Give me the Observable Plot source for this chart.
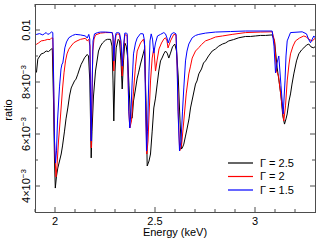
<!DOCTYPE html>
<html>
<head>
<meta charset="utf-8">
<script src="https://cdn.jsdelivr.net/npm/d3@7"></script>
<script src="https://cdn.jsdelivr.net/npm/@observablehq/plot@0.6"></script>
<style>
  html, body { margin: 0; padding: 0; background: #fff; }
  svg { display: block; font-family: "Liberation Sans", Arial, sans-serif; }
</style>
</head>
<body>
<div id="chart"></div>
<script>
// ---- data ----
const seriesNames = ["Γ = 2.5", "Γ = 2", "Γ = 1.5"];
const seriesColors = ["#000000", "#ff0000", "#0000ff"];

const energyG25 = [1.905,1.9115,1.9285,1.94,1.9535,1.965,1.9785,1.984,1.99,1.995,1.999,2.005,2.0115,2.02,2.0285,2.035,2.045,2.0525,2.0615,2.07,2.0785,2.085,2.095,2.1025,2.1115,2.12,2.1285,2.1375,2.145,2.1525,2.1585,2.165,2.1715,2.1785,2.1825,2.19,2.2,2.215,2.225,2.235,2.25,2.26,2.275,2.2825,2.2875,2.2915,2.2975,2.3035,2.3135,2.32,2.3275,2.3335,2.34,2.3465,2.3535,2.36,2.3675,2.375,2.3835,2.39,2.4,2.4085,2.415,2.425,2.4385,2.445,2.4525,2.4585,2.4675,2.475,2.4835,2.4915,2.5,2.5085,2.5165,2.525,2.5325,2.5415,2.55,2.5585,2.5665,2.575,2.585,2.5965,2.605,2.6135,2.6225,2.63,2.636,2.6415,2.65,2.6585,2.6675,2.675,2.6875,2.7,2.7075,2.7165,2.73,2.74,2.75,2.765,2.7835,2.8,2.8165,2.835,2.85,2.8665,2.89,2.9165,2.95,2.975,3.0,3.025,3.05,3.0835,3.095,3.1085,3.1175,3.1275,3.1365,3.145,3.1525,3.1585,3.1675,3.175,3.1825,3.1915,3.205,3.2165,3.23,3.2415,3.255,3.2665,3.2775,3.2915,3.3];
const ratioG25 = [8.40,8.90,9.10,9.13,9.21,9.19,9.28,9.31,7.29,4.98,3.94,4.40,4.71,4.98,5.25,5.56,6.13,6.60,7.02,7.48,7.79,7.90,8.06,8.13,8.32,8.52,8.70,8.83,8.95,9.02,9.08,9.02,8.06,5.10,6.13,7.48,8.44,9.21,9.40,9.52,9.63,9.66,9.66,9.40,8.06,6.52,8.44,9.33,9.66,9.60,8.83,7.75,8.83,9.52,9.40,9.02,7.87,6.63,6.63,7.29,7.75,8.17,8.37,8.71,9.10,9.29,7.29,4.79,4.98,5.25,6.13,7.02,7.40,7.94,8.44,8.83,8.94,9.10,9.21,9.13,8.94,9.13,9.37,9.48,9.21,8.25,6.52,5.44,5.52,5.63,5.94,6.25,6.60,7.02,7.48,7.94,8.06,8.33,8.52,8.75,8.83,9.02,9.21,9.29,9.40,9.48,9.52,9.60,9.65,9.72,9.77,9.77,9.79,9.81,9.81,9.83,9.60,8.56,8.06,7.48,6.71,6.40,6.60,6.79,7.29,7.56,7.94,8.33,8.83,9.10,9.25,9.33,9.44,9.48,9.37,9.33,9.40];

const energyG2 = [1.905,1.915,1.9285,1.945,1.9615,1.9725,1.9815,1.9865,1.991,1.996,2.0025,2.0075,2.015,2.025,2.035,2.0425,2.05,2.0575,2.0665,2.0775,2.0915,2.1075,2.125,2.15,2.1585,2.1665,2.1725,2.1765,2.179,2.1825,2.1865,2.1925,2.2,2.225,2.25,2.2835,2.2875,2.2915,2.2965,2.3025,2.31,2.32,2.3275,2.3335,2.34,2.3465,2.355,2.3585,2.3665,2.3715,2.38,2.39,2.4,2.4085,2.425,2.44,2.4465,2.4515,2.4565,2.4625,2.4665,2.475,2.4835,2.4915,2.5,2.5075,2.5175,2.53,2.5415,2.55,2.5575,2.5625,2.575,2.5915,2.6025,2.609,2.615,2.621,2.63,2.6415,2.6535,2.6665,2.675,2.6835,2.7,2.7165,2.73,2.75,2.775,2.8,2.835,2.8835,2.95,3.025,3.0835,3.095,3.105,3.115,3.13,3.1415,3.15,3.1585,3.1675,3.175,3.1875,3.2,3.22,3.2415,3.255,3.2665,3.2835,3.3];
const ratioG2 = [9.47,9.52,9.60,9.62,9.66,9.65,9.72,9.71,7.67,5.37,4.37,4.79,5.75,6.71,7.75,8.37,8.83,9.10,9.28,9.40,9.53,9.60,9.66,9.70,9.60,9.66,9.40,6.90,5.48,7.29,9.21,9.67,9.83,9.90,9.92,9.92,9.71,8.44,9.40,9.83,9.87,9.85,9.40,8.25,9.21,9.83,9.83,9.79,6.90,6.25,6.52,7.67,8.63,9.21,9.52,9.67,9.40,6.90,5.25,5.75,6.52,8.06,8.94,9.33,8.44,8.83,9.29,9.52,9.67,9.72,9.60,9.33,9.60,9.85,9.83,8.44,6.52,5.37,5.56,6.52,7.56,8.33,8.63,8.94,9.21,9.34,9.46,9.60,9.67,9.75,9.79,9.85,9.92,9.94,9.95,9.60,8.44,8.25,7.29,6.52,7.10,8.06,8.71,9.10,9.40,9.60,9.71,9.79,9.75,9.66,9.60,9.71];

const energyG15 = [1.905,1.92,1.9365,1.945,1.9535,1.9615,1.97,1.9815,1.9865,1.991,1.995,2.0,2.005,2.01,2.02,2.0275,2.0325,2.0365,2.0415,2.0465,2.055,2.0665,2.085,2.1,2.125,2.15,2.1585,2.1665,2.1715,2.175,2.1785,2.1825,2.1875,2.195,2.21,2.225,2.25,2.2835,2.2875,2.2915,2.2965,2.3025,2.31,2.32,2.3275,2.3335,2.34,2.3465,2.355,2.3585,2.3665,2.3715,2.3775,2.3835,2.39,2.4,2.4085,2.425,2.4385,2.445,2.45,2.455,2.46,2.4675,2.4725,2.4785,2.485,2.4915,2.5,2.51,2.525,2.5415,2.55,2.5575,2.5635,2.57,2.58,2.5915,2.6025,2.6075,2.6125,2.62,2.6275,2.635,2.6415,2.65,2.6575,2.6665,2.6835,2.7,2.7165,2.75,2.8,2.875,2.95,3.0835,3.0925,3.1,3.1075,3.1165,3.1275,3.1385,3.1475,3.1525,3.1585,3.175,3.2335,3.255,3.265,3.275,3.2915,3.3];
const ratioG15 = [9.85,9.88,9.83,9.88,9.92,9.85,9.88,9.95,9.92,8.06,5.75,4.90,5.37,6.52,7.83,8.52,8.71,8.75,9.02,9.33,9.56,9.72,9.81,9.85,9.83,9.79,9.71,9.85,9.67,7.29,5.75,7.67,9.60,9.87,9.92,9.94,9.94,9.92,9.79,8.83,9.60,9.90,9.92,9.90,9.60,8.63,9.40,9.90,9.90,9.87,6.90,6.25,6.90,8.06,9.10,9.52,9.71,9.88,9.87,9.60,7.29,5.37,6.13,8.44,9.60,9.87,9.67,9.13,9.52,9.79,9.85,9.92,9.87,9.71,9.52,9.67,9.87,9.92,9.87,8.83,6.90,5.37,5.75,6.90,7.79,8.83,9.21,9.48,9.72,9.81,9.85,9.90,9.94,9.96,9.98,9.98,9.40,8.37,8.75,9.02,7.87,6.79,8.06,9.02,9.60,9.92,9.95,9.87,9.67,9.53,9.79,9.71];

const xMajorTicks = [2, 2.5, 3];
const xTickLabels = ["2", "2.5", "3"];
const xMinorTicks = [1.9, 2.1, 2.2, 2.3, 2.4, 2.6, 2.7, 2.8, 2.9, 3.1, 3.2];
const yMajorTicks = [0.004, 0.006, 0.008, 0.010];
const yTickMantissa = ["4", "6", "8", null];
const yMinorTicks = [0.005, 0.007, 0.009];
const xLabel = "Energy (keV)";
const yLabel = "ratio";

// ---- build table ----
const rows = [];
[[energyG25, ratioG25], [energyG2, ratioG2], [energyG15, ratioG15]].forEach(([es, rs], i) => {
  es.forEach((e, j) => rows.push({series: seriesNames[i], energy: e, ratio: rs[j] * 1e-3}));
});

const W = 319, H = 242;
const mL = 35, mR = 4, mT = 4, mB = 30;
const FONT = '"Liberation Sans", Arial, sans-serif';

const plot = Plot.plot({
  width: W, height: H,
  marginLeft: mL, marginRight: mR, marginTop: mT, marginBottom: mB,
  style: {fontFamily: FONT, fontSize: "11px", background: "#fff"},
  x: {domain: [1.9, 3.3], axis: null},
  y: {domain: [0.003, 0.011], axis: null},
  color: {domain: seriesNames, range: seriesColors},
  marks: [
    Plot.line(rows, {x: "energy", y: "ratio", z: "series", stroke: "series", strokeWidth: 1, curve: "linear", clip: true}),
    Plot.frame({stroke: "#4d4d4d", strokeWidth: 1})
  ]
});
document.getElementById("chart").appendChild(plot);

const sx = plot.scale("x"), sy = plot.scale("y");
const svg = d3.select(plot);
const x0 = mL, x1 = W - mR, y0 = mT, y1 = H - mB;
const tickCol = "#4d4d4d";
const g = svg.append("g").attr("stroke", tickCol).attr("stroke-width", 1);
function xt(v, len) {
  const X = sx.apply(v);
  g.append("line").attr("x1", X).attr("x2", X).attr("y1", y1).attr("y2", y1 - len);
  g.append("line").attr("x1", X).attr("x2", X).attr("y1", y0).attr("y2", y0 + len);
}
function yt(v, len) {
  const Y = sy.apply(v);
  g.append("line").attr("y1", Y).attr("y2", Y).attr("x1", x0).attr("x2", x0 + len);
  g.append("line").attr("y1", Y).attr("y2", Y).attr("x1", x1).attr("x2", x1 - len);
}
xMajorTicks.forEach(v => xt(v, 5));
xMinorTicks.forEach(v => xt(v, 3));
yMajorTicks.forEach(v => yt(v, 5));
yMinorTicks.forEach(v => yt(v, 3));

const tg = svg.append("g").attr("fill", "#000").attr("font-size", 11).attr("font-family", FONT);
xMajorTicks.forEach((v, i) => {
  tg.append("text").attr("x", sx.apply(v)).attr("y", y1 + 9).attr("dy", "0.35em")
    .attr("text-anchor", "middle").text(xTickLabels[i]);
});
yMajorTicks.forEach((v, i) => {
  const t = tg.append("text").attr("text-anchor", "middle")
    .attr("transform", `translate(${x0 - 9},${sy.apply(v)}) rotate(-90)`).attr("dy", "0.35em");
  if (yTickMantissa[i] === null) {
    t.text("0.01");
  } else {
    t.append("tspan").text(yTickMantissa[i] + "×10");
    t.append("tspan").attr("font-size", 8).attr("dy", "-0.5em").text("−3");
  }
});
tg.append("text").attr("x", (x0 + x1) / 2).attr("y", H - 10).attr("dy", "0.35em")
  .attr("text-anchor", "middle").text(xLabel);
tg.append("text").attr("text-anchor", "middle")
  .attr("transform", `translate(8,${(y0 + y1) / 2 + 2}) rotate(-90)`).attr("dy", "0.35em").text(yLabel);

// legend
const lg = svg.append("g");
seriesNames.forEach((name, i) => {
  const ly = 163 + i * 13.5;
  lg.append("line").attr("x1", 228).attr("x2", 253).attr("y1", ly).attr("y2", ly)
    .attr("stroke", seriesColors[i]).attr("stroke-width", 1.2);
  lg.append("text").attr("x", 260).attr("y", ly).attr("dy", "0.35em")
    .attr("text-anchor", "start").attr("fill", "#000")
    .attr("font-size", 11).attr("font-family", FONT).text(name);
});
</script>
</body>
</html>
